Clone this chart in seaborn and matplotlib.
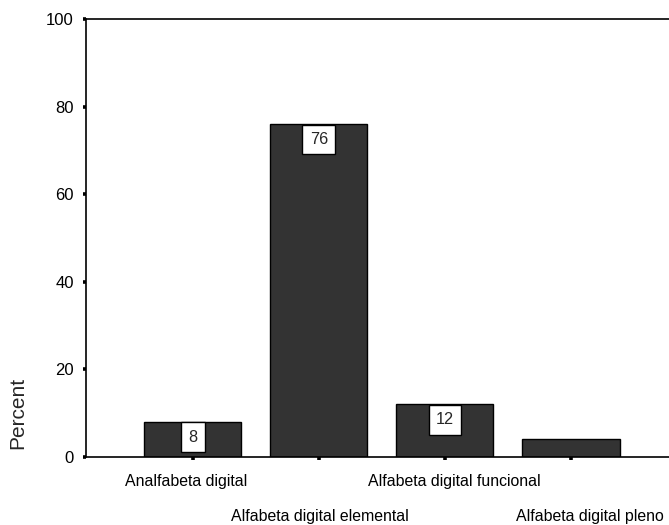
import seaborn as sns
import matplotlib.pyplot as plt
import matplotlib.transforms as mtransforms
import pandas as pd

# data
categories = ["Analfabeta digital", "Alfabeta digital elemental",
              "Alfabeta digital funcional", "Alfabeta digital pleno"]
percent = [8, 76, 12, 4]
bar_labels = ["8", "76", "12", ""]
y_ticks = [0, 20, 40, 60, 80, 100]

df = pd.DataFrame({"nivel": categories, "percent": percent})

sns.set_style("ticks")
plt.rcParams['font.family'] = ['Liberation Sans', 'DejaVu Sans']

fig = plt.figure(figsize=(6.69, 5.25), dpi=100)
ax = fig.add_axes([0.128, 0.1295, 0.88, 0.834])

sns.barplot(data=df, x="nivel", y="percent", color="#333333",
            edgecolor="black", linewidth=1.0, width=0.77, saturation=1, ax=ax)

ax.set_xlim(-0.85, 3.82)
ax.set_ylim(0, 100)
ax.set_yticks(y_ticks)

ax.set_xticks(range(len(categories)))
ax.set_xticklabels(categories, fontsize=11.4)
ax.tick_params(axis="both", direction="out", length=2.5, width=2.6,
               colors="black", pad=6)
ax.tick_params(axis="y", labelsize=12)
ax.tick_params(axis="x", pad=10)

# staggered labels: every second one drops a row, plus small x shifts (px)
shifts_x = [-7, 1, 9, 19]
shifts_y = [0, -35, 0, -35]
for lab, dx, dy in zip(ax.get_xticklabels(), shifts_x, shifts_y):
    lab.set_transform(lab.get_transform() +
                      mtransforms.ScaledTranslation(dx / 100, dy / 100,
                                                    fig.dpi_scale_trans))

for sp in ["left", "bottom", "top"]:
    ax.spines[sp].set_color("black")
    ax.spines[sp].set_linewidth(1.2)
ax.spines["right"].set_visible(False)

ax.set_xlabel("")
ax.set_ylabel("Percent", fontsize=15)
ax.yaxis.set_label_coords(-0.1, 0.1)

# value boxes at the top of each bar
for i, (v, lab) in enumerate(zip(percent, bar_labels)):
    if lab:
        ax.annotate(lab, (i, v), xytext=(0, -11),
                    textcoords="offset points", ha="center", va="center",
                    fontsize=11.7,
                    bbox=dict(boxstyle="square,pad=0.45", fc="white",
                              ec="black", lw=1))

fig.savefig("out.png", dpi=100)
